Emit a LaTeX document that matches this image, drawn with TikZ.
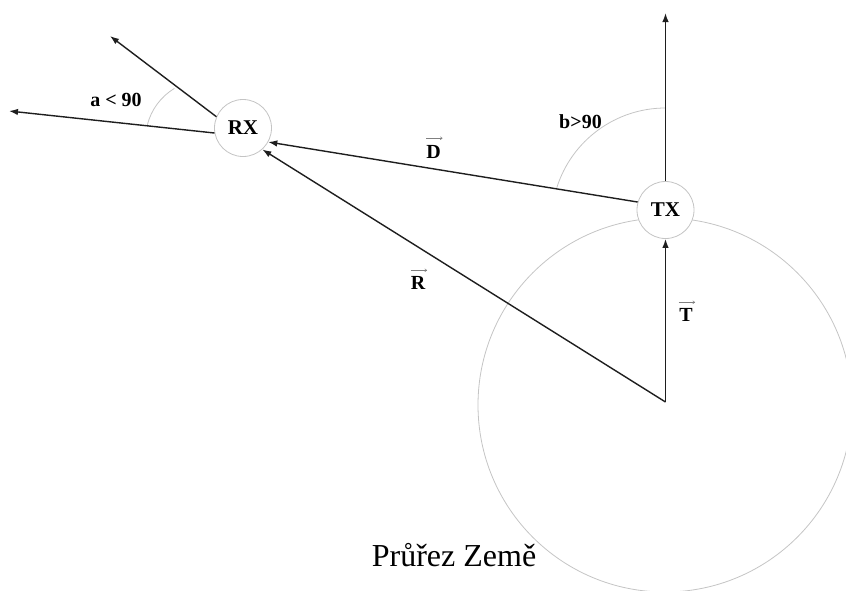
\documentclass[tikz,border=0pt]{standalone}
\usepackage{fontspec}
\setmainfont{Liberation Serif}
\usetikzlibrary{arrows.meta}
\definecolor{ln}{HTML}{1E1E1E}
\definecolor{cir}{HTML}{C4C4C4}
\begin{document}
\begin{tikzpicture}[x=1pt,y=-1pt,
  vec/.style={draw=ln, line width=1.4pt, -{Latex[length=9pt,width=6.5pt]}},
  site/.style={circle, draw=cir, line width=0.8pt, minimum size=57pt, inner sep=0pt,
    fill=white, font=\fontsize{21}{21}\selectfont\bfseries},
  guide/.style={draw=cir, line width=0.8pt},
  lab/.style={font=\fontsize{20}{20}\selectfont\bfseries, inner sep=0pt},
  vletter/.style={font=\fontsize{20}{20}\selectfont\bfseries, inner sep=0pt},
  varrow/.style={draw=gray, line width=0.5pt, -{To[length=2.5pt,width=3.5pt]}}]
\useasboundingbox (0,0) rectangle (846,590);
% Earth cross-section
\draw[guide] (665,405) circle[radius=187];
% angle arcs
\draw[guide] (147.3,125) arc[start angle=-165.8, end angle=-121.2, radius=60];
\draw[guide] (665.5,108) arc[start angle=-90, end angle=-162.5, radius=114];
% sites
\node[site] (TX) at (665.5,210) {TX};
\node[site] (RX) at (243,128) {RX};
\coordinate (O) at (665.5,402);
\coordinate (up) at (665.5,13);
\coordinate (tipU) at (110,36);
\coordinate (tipL) at (9,111);
% vectors
\draw[vec] (O) -- (TX.south);
\draw[vec] (O) -- (RX.312);
\draw[vec] (TX.164) -- (RX.331);
\draw[vec] (TX.north) -- (up);
\draw[vec] (RX.157) -- (tipU);
\draw[vec] (RX.190) -- (tipL);
% labels
\node[lab, anchor=base] (la) at (116,106) {a < 90};
\node[lab, anchor=base] (lb) at (580.5,128) {b>90};
\node[vletter] (lD) at (433.5,152) {D};
\node[vletter] (lR) at (418,283) {R};
\node[vletter] (lT) at (686,315) {T};
\draw[varrow] ([xshift=-7.5pt,yshift=7pt]lD.north) -- ([xshift=9pt,yshift=7pt]lD.north);
\draw[varrow] ([xshift=-7.5pt,yshift=6pt]lR.north) -- ([xshift=9pt,yshift=6pt]lR.north);
\draw[varrow] ([xshift=-7.5pt,yshift=6pt]lT.north) -- ([xshift=9pt,yshift=6pt]lT.north);
\node[font=\fontsize{32}{32}\selectfont, anchor=base, inner sep=0pt] (cap) at (454,566.7) {Průřez Země};
\end{tikzpicture}
\end{document}
